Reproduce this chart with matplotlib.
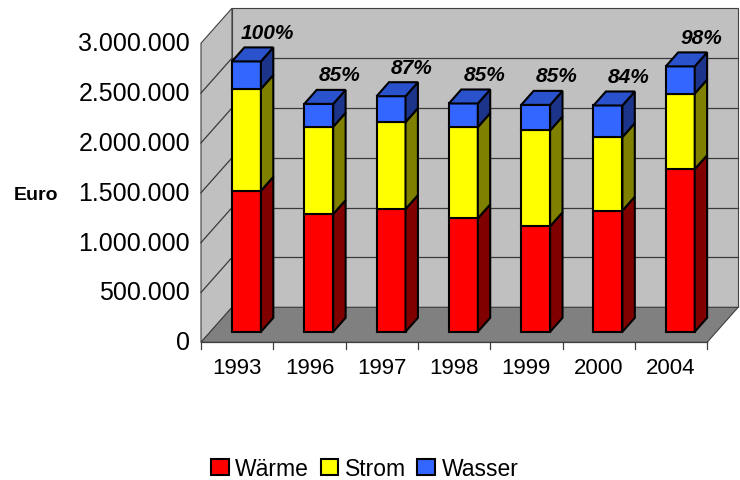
import matplotlib
matplotlib.use('Agg')
import matplotlib.pyplot as plt
from matplotlib.patches import Polygon, Patch

plt.rcParams['font.family'] = ['Liberation Sans', 'DejaVu Sans']

# data (Euro)
years = ['1993', '1996', '1997', '1998', '1999', '2000', '2004']
waerme = [1414000, 1181000, 1231000, 1138000, 1058000, 1215000, 1631000]
strom = [1022000, 876000, 872000, 915000, 962000, 738000, 758000]
wasser = [276000, 229000, 260000, 237000, 256000, 317000, 273000]
anteil = ['100%', '85%', '87%', '85%', '85%', '84%', '98%']
y_ticks = [0, 500000, 1000000, 1500000, 2000000, 2500000, 3000000]

# front / side / top colours per series
series = [
    ('Wärme', waerme, '#ff0000', '#800000', '#c80000'),
    ('Strom', strom, '#ffff00', '#808000', '#cccc00'),
    ('Wasser', wasser, '#3366ff', '#1c348a', '#2952cc'),
]

# layout of the fake 3d box (pixels of the 740x481 picture)
PX_CAT = 72.3
PX_EUR = 99.7 / 1e6
X0_PX, Y0_PX = 201, 343.3

fig = plt.figure(figsize=(7.4, 4.81), dpi=100)
ax = fig.add_axes([0, 0, 1, 1])
ax.set_xlim(-0.5 - X0_PX / PX_CAT, -0.5 + (740 - X0_PX) / PX_CAT)
ax.set_ylim(-(481 - Y0_PX) / PX_EUR, Y0_PX / PX_EUR)
ax.axis('off')

n = len(years)
DX = 31 / PX_CAT
DY = 35 / PX_EUR
ymax = y_ticks[-1]
xl, xr = -0.5, n - 0.5


def poly(pts, fc, ec, lw, z):
    ax.add_patch(Polygon(pts, closed=True, fc=fc, ec=ec, lw=lw, zorder=z,
                         joinstyle='miter'))


# walls and floor
poly([(xl, 0), (xl + DX, DY), (xl + DX, ymax + DY), (xl, ymax)], '#c0c0c0', '#404040', 0.8, 1)
poly([(xl + DX, DY), (xr + DX, DY), (xr + DX, ymax + DY), (xl + DX, ymax + DY)], '#c0c0c0', '#404040', 0.8, 1)
poly([(xl, 0), (xr, 0), (xr + DX, DY), (xl + DX, DY)], '#808080', '#404040', 0.8, 1)

# gridlines on back and side wall
for v in y_ticks[1:-1]:
    ax.plot([xl + DX, xr + DX], [v + DY, v + DY], color='#3a3a3a', lw=0.9, zorder=2)
    ax.plot([xl, xl + DX], [v, v + DY], color='#3a3a3a', lw=0.9, zorder=2)

# category axis with ticks
ax.plot([xl, xr], [0, 0], color='#404040', lw=0.9, zorder=2)
for i in range(n + 1):
    ax.plot([xl + i, xl + i], [0, -0.065e6], color='#404040', lw=0.9, zorder=2)

# bars
F0, F1 = 0.3, 0.7
w = 0.2
ddx = (F1 - F0) * DX
ddy = (F1 - F0) * DY
for i in range(n):
    bottom = 0
    for k, (name, vals, c_front, c_side, c_top) in enumerate(series):
        top = bottom + vals[i]
        x0 = i - w + F0 * DX
        x1 = i + w + F0 * DX
        yb = bottom + F0 * DY
        yt = top + F0 * DY
        poly([(x0, yb), (x1, yb), (x1, yt), (x0, yt)], c_front, 'black', 1.5, 5)
        poly([(x1, yb), (x1 + ddx, yb + ddy), (x1 + ddx, yt + ddy), (x1, yt)], c_side, 'black', 1.5, 5)
        if k == len(series) - 1:
            poly([(x0, yt), (x1, yt), (x1 + ddx, yt + ddy), (x0 + ddx, yt + ddy)], c_top, 'black', 1.5, 5)
        bottom = top
    # percentage relative to 1993
    ax.text(i + F0 * DX + 0.29, bottom + F0 * DY + 0.29e6, anteil[i], ha='center', va='center',
            fontsize=15, fontweight='bold', style='italic', zorder=6)

# tick labels
for i, y in enumerate(years):
    ax.text(i, -0.255e6, y, ha='center', va='center', fontsize=16)
for v in y_ticks:
    ax.text(xl - 0.152, v, f'{v:,}'.replace(',', '.'), ha='right', va='center', fontsize=18)

ax.text(-2.789, 1.487e6, 'Euro', ha='center', va='center', fontsize=14, fontweight='bold')

handles = [Patch(fc=s[2], ec='black', lw=1.5, label=s[0]) for s in series]
fig.legend(handles=handles, loc='center', bbox_to_anchor=(0.493, 0.024), ncol=3, frameon=False,
           fontsize=16.5, handlelength=0.75, handleheight=0.68, handletextpad=0.3,
           columnspacing=0.5, borderaxespad=0, borderpad=0.1)

fig.savefig('out.png', dpi=100)
